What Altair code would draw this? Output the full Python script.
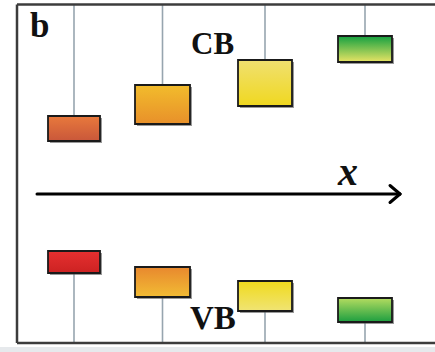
import altair as alt
import pandas as pd

# ---- data (schematic band diagram: position along x, energy in arbitrary units) ----
sites = ["1", "2", "3", "4"]
centers = [0.74, 1.625, 2.65, 3.65]
half_w = [0.26, 0.275, 0.27, 0.27]
cb_low = [1.06, 1.40, 1.76, 2.64]
cb_high = [1.56, 2.18, 2.68, 3.16]
vb_low = [-1.58, -2.06, -2.34, -2.56]
vb_high = [-1.14, -1.46, -1.74, -2.08]
cb_colors = [("#e8793c", "#c9573a"), ("#f2bc2c", "#e8902a"),
             ("#f0e070", "#f0d820"), ("#14a040", "#e8e464")]
vb_colors = [("#e63030", "#cc2222"), ("#e8882e", "#f2bc34"),
             ("#f0da1c", "#f0e474"), ("#b4dc60", "#1c9e40")]

frame_top = 3.79
frame_bottom = -2.98
frame_left = 0.17
x_max = 4.35
e_min, e_max = -3.16, 3.88

labels = ["b", "CB", "VB", "x"]

W, H = 435, 352
xs = alt.Scale(domain=[0, x_max], zero=False, nice=False)
ys = alt.Scale(domain=[e_min, e_max], zero=False, nice=False)

def X(f="x"):
    return alt.X(f"{f}:Q", scale=xs, axis=None)

def Y(f="y"):
    return alt.Y(f"{f}:Q", scale=ys, axis=None)

layers = []

# bottom grey strip
strip = pd.DataFrame({"x": [0], "x2": [x_max], "y": [e_min], "y2": [-3.06]})
layers.append(alt.Chart(strip).mark_rect(color="#e6e9ec").encode(
    x=X(), x2="x2:Q", y=Y(), y2="y2:Q"))

# stems
stems = pd.DataFrame({
    "x": centers * 2,
    "y": cb_high + vb_low,
    "y2": [frame_top] * 4 + [frame_bottom] * 4,
})
layers.append(alt.Chart(stems).mark_rule(color="#97a5af", strokeWidth=1.6).encode(
    x=X(), y=Y(), y2="y2:Q"))

# boxes with gradients
for i in range(4):
    for lo, hi, cols in ((cb_low, cb_high, cb_colors), (vb_low, vb_high, vb_colors)):
        d = pd.DataFrame({"x": [centers[i] - half_w[i]], "x2": [centers[i] + half_w[i]],
                          "y": [lo[i]], "y2": [hi[i]]})
        shadow = alt.Chart(d).mark_rect(color="#555555", opacity=0.6,
                                        xOffset=2, x2Offset=2, yOffset=2, y2Offset=2).encode(
            x=X(), x2="x2:Q", y=Y(), y2="y2:Q")
        c_top, c_bot = cols[i]
        grad = alt.Gradient(gradient="linear", x1=0, x2=0, y1=0, y2=1,
                            stops=[alt.GradientStop(color=c_top, offset=0),
                                   alt.GradientStop(color=c_bot, offset=1)])
        box = alt.Chart(d).mark_rect(fill=grad, stroke="#1a1a1a", strokeWidth=1.8).encode(
            x=X(), x2="x2:Q", y=Y(), y2="y2:Q")
        layers += [shadow, box]

# frame
frame = pd.DataFrame({
    "x": [frame_left, frame_left, frame_left],
    "x2": [frame_left, x_max, x_max],
    "y": [frame_bottom, frame_top, frame_bottom],
    "y2": [frame_top, frame_top, frame_bottom],
})
layers.append(alt.Chart(frame).mark_rule(color="#3c3c3c", strokeWidth=2.5).encode(
    x=X(), x2="x2:Q", y=Y(), y2="y2:Q"))

# x arrow
arrow = pd.DataFrame({"x": [0.37, 3.90, 3.90], "x2": [4.00, 4.00, 4.00],
                      "y": [0.0, 0.17, -0.17], "y2": [0.0, 0.0, 0.0]})
layers.append(alt.Chart(arrow).mark_rule(color="#000000", strokeWidth=3, strokeCap="round").encode(
    x=X(), x2="x2:Q", y=Y(), y2="y2:Q"))

# labels
txt = pd.DataFrame({
    "t": labels,
    "x": [0.30, 1.91, 1.90, 3.38],
    "y": [3.14, 2.80, -2.70, 0.18],
    "size": [35, 31, 33, 40],
    "style": ["normal", "normal", "normal", "italic"],
})
for _, r in txt.iterrows():
    layers.append(alt.Chart(pd.DataFrame([r])).mark_text(
        font="Liberation Serif", fontWeight="bold", fontStyle=r["style"],
        fontSize=int(r["size"]), align="left", baseline="alphabetic", color="#111111").encode(
        x=X(), y=Y(), text="t:N"))

chart = alt.layer(*layers).properties(
    width=W, height=H, padding=0, autosize=alt.AutoSizeParams(type="none"),
    background="white",
).configure_view(stroke=None)

chart.save("out.html", embed_options={"renderer": "svg", "actions": False})
